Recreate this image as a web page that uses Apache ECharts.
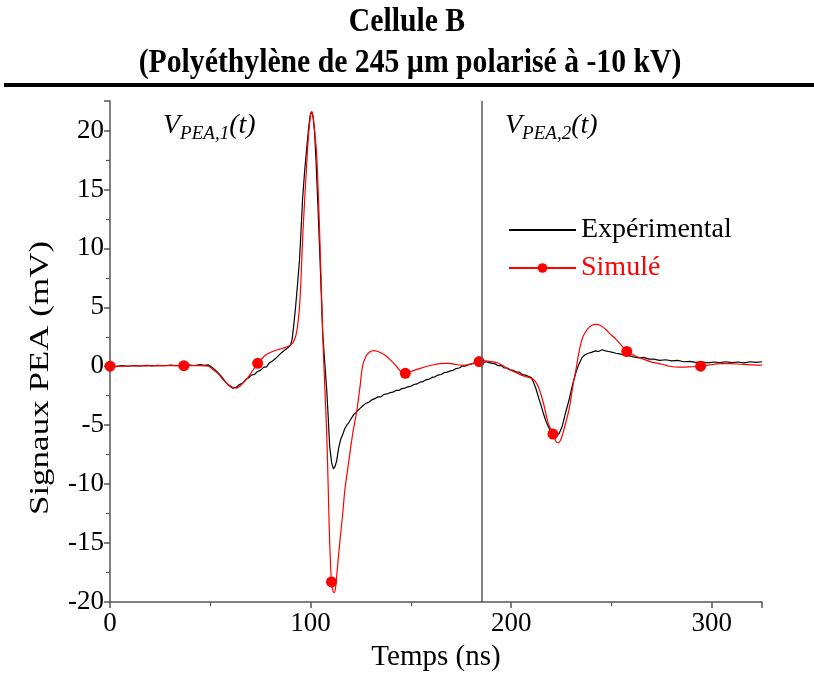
<!DOCTYPE html>
<html>
<head>
<meta charset="utf-8">
<script src="https://cdn.jsdelivr.net/npm/echarts@6/dist/echarts.min.js"></script>
<style>
  html, body { margin: 0; padding: 0; background: #fff; }
  #chart { width: 814px; height: 677px; }
</style>
</head>
<body>
<div id="chart"></div>
<script>
// signal expérimental (temps en ns, signal en mV)
var expT = [0, 3, 6, 9, 12, 15, 18, 21, 24, 27, 30, 33, 36, 39, 42, 45, 47, 49, 51, 53, 55, 57, 59, 61, 63, 64.5, 66, 67.5, 69, 70.5, 72, 73.5, 75, 76.5, 78, 79.5, 81, 82.5, 84, 85.5, 87, 88.5, 90, 90.8, 91.6, 92.5, 93.5, 94.5, 95.3, 96, 97, 98, 99, 99.8, 100.5, 101.2, 102, 102.8, 103.6, 104.5, 105.3, 106, 107, 108, 108.8, 109.5, 110.5, 111.4, 112.2, 113, 114, 115, 116, 117, 118, 119, 120, 121.5, 123, 124.5, 126, 127.5, 129, 130.5, 132, 133.5, 135, 136.5, 138, 139.5, 141, 142.5, 144, 145.5, 147, 148.5, 150, 151.5, 153, 154.5, 156, 157.5, 159, 160.5, 162, 163.5, 165, 166.5, 168, 169.5, 171, 172.5, 174, 175.5, 177, 178.5, 180, 181.5, 183, 184.5, 186, 187.5, 189, 190.5, 192, 193.5, 195, 196.5, 198, 199.5, 201, 202.5, 204, 205.5, 207, 208.5, 210, 211.2, 212.4, 213.7, 215, 216.2, 217.4, 218.7, 219.9, 221.2, 222.4, 223.9, 225.4, 227, 228.9, 230.5, 232.3, 233.8, 235.3, 237, 238.5, 240.3, 242, 243.5, 245.3, 247, 248.5, 250, 252.2, 254, 256, 258.7, 261, 263.5, 266, 268.7, 271, 274, 277, 280, 283, 286, 289, 292, 295, 298, 301, 304, 307, 310, 313, 316, 319, 322, 325];
var expV = [0.02, -0.03, 0.05, 0.0, 0.06, 0.02, 0.08, 0.03, 0.07, 0.04, 0.1, 0.05, 0.09, 0.12, 0.06, 0.14, 0.08, 0.12, -0.1, -0.4, -0.75, -1.2, -1.6, -1.85, -1.78, -1.55, -1.45, -1.15, -1.0, -0.75, -0.7, -0.45, -0.35, -0.1, -0.05, 0.3, 0.45, 0.65, 0.9, 1.15, 1.35, 1.55, 1.8, 2.3, 3.5, 5.0, 7.0, 9.1, 11.8, 14.2, 16.5, 18.4, 20.2, 21.3, 21.6, 21.2, 19.8, 17.0, 13.8, 9.9, 6.2, 2.9, 0.4, -1.9, -4.4, -6.8, -8.2, -8.7, -8.5, -8.0, -6.9, -6.2, -5.8, -5.3, -5.0, -4.8, -4.5, -4.1, -3.85, -3.6, -3.35, -3.15, -3.05, -2.85, -2.75, -2.6, -2.6, -2.4, -2.35, -2.25, -2.2, -2.05, -2.05, -1.9, -1.85, -1.75, -1.7, -1.55, -1.5, -1.35, -1.3, -1.15, -1.1, -0.95, -0.9, -0.75, -0.7, -0.55, -0.5, -0.4, -0.35, -0.2, -0.15, 0.0, 0.0, 0.12, 0.18, 0.28, 0.25, 0.35, 0.3, 0.38, 0.3, 0.25, 0.2, 0.05, 0.05, -0.15, -0.15, -0.3, -0.35, -0.5, -0.5, -0.7, -0.75, -0.85, -0.95, -1.4, -1.95, -2.7, -3.4, -4.1, -4.7, -5.2, -5.6, -5.9, -6.0, -5.7, -5.1, -4.0, -2.8, -1.6, -0.5, 0.2, 0.75, 1.0, 1.1, 1.2, 1.3, 1.25, 1.4, 1.3, 1.25, 1.2, 1.1, 1.05, 0.95, 0.9, 0.8, 0.7, 0.75, 0.6, 0.6, 0.5, 0.55, 0.45, 0.5, 0.38, 0.42, 0.33, 0.38, 0.28, 0.36, 0.3, 0.38, 0.3, 0.36, 0.28, 0.38, 0.32, 0.38];

// signal simulé
var simT = [0, 10, 20, 30, 36.8, 45, 49, 51.5, 54, 56.5, 59, 61.5, 63, 65, 67, 69, 71, 73.6, 76, 78, 81, 84.6, 87.5, 89.6, 91.2, 92.5, 93.5, 94.5, 95.3, 96, 97, 98, 99, 100, 100.5, 101.2, 102, 103, 104, 104.5, 105.3, 106, 107, 108, 108.8, 109.5, 110.4, 111.2, 111.8, 112.5, 113.4, 114.5, 115.9, 117, 118, 119.4, 121, 122.9, 124.5, 125.9, 127.5, 129.4, 131.5, 133.5, 135.5, 137.8, 140, 142.8, 145, 147.2, 150, 154.2, 158, 162, 165.7, 169, 172, 176, 180, 184, 187, 190, 193, 196, 198.5, 202, 205, 208, 211, 213.4, 216, 218.4, 220.8, 222.4, 223.4, 224.5, 225.4, 227, 228.9, 230.5, 232.3, 233.8, 235.3, 237, 238.8, 240.5, 242.3, 244.5, 247.3, 249.5, 252.2, 255, 257.6, 261, 265.2, 270, 275.1, 279, 283.6, 289, 294.4, 299, 304.5, 309, 314.4, 320, 325];
var simV = [0, 0.02, 0.04, 0.05, 0.05, 0.05, 0.0, -0.3, -0.65, -1.15, -1.55, -1.82, -1.85, -1.65, -1.3, -0.9, -0.4, 0.25, 0.7, 1.0, 1.25, 1.45, 1.6, 1.75, 2.0, 2.5, 3.4, 5.1, 7.8, 10.8, 14.0, 17.0, 19.7, 21.3, 21.6, 21.2, 20.0, 18.0, 13.8, 11.3, 7.0, 2.9, -1.5, -5.6, -10.5, -15.0, -18.3, -19.1, -19.2, -18.7, -17.0, -15.0, -12.7, -10.6, -9.3, -7.6, -5.7, -3.9, -1.9, 0.0, 0.8, 1.2, 1.32, 1.25, 1.1, 0.85, 0.5, 0.0, -0.45, -0.6, -0.45, -0.2, 0.0, 0.15, 0.25, 0.25, 0.15, 0.08, 0.2, 0.4, 0.45, 0.4, 0.3, 0.05, -0.25, -0.5, -0.75, -0.9, -1.1, -1.7, -3.1, -4.8, -5.75, -6.4, -6.5, -6.3, -5.9, -4.9, -3.6, -1.9, -0.25, 1.2, 2.3, 2.9, 3.3, 3.5, 3.55, 3.45, 3.1, 2.7, 2.3, 1.75, 1.25, 0.95, 0.65, 0.35, 0.17, 0.0, -0.08, -0.05, 0.0, 0.12, 0.22, 0.22, 0.17, 0.12, 0.1];
// points marqués par un symbole
var simMarkT = [0, 36.8, 73.6, 110.4, 147.2, 184, 220.8, 257.6, 294.4];

var tSep = 185.5;

var serif = '"Liberation Serif", "Times New Roman", serif';
var chart = echarts.init(document.getElementById('chart'));

var expData = [];
for (var i = 0; i < expT.length; i++) {
    expData.push([expT[i], expV[i]]);
}
var simData = [];
for (var i = 0; i < simT.length; i++) {
    simData.push({
        value: [simT[i], simV[i]],
        symbol: simMarkT.indexOf(simT[i]) >= 0 ? 'circle' : 'none'
    });
}

function vLabel(idx) {
    return {
        text: '{v|V}{s|PEA,' + idx + '}{v|(t)}',
        rich: {
            v: { fontFamily: serif, fontStyle: 'italic', fontSize: 28, lineHeight: 34, verticalAlign: 'middle', fill: '#000' },
            s: { fontFamily: serif, fontStyle: 'italic', fontSize: 19, lineHeight: 34, verticalAlign: 'bottom', padding: [10, 0, 0, 0], fill: '#000' }
        }
    };
}

var option = {
    backgroundColor: '#fff',
    animation: false,
    grid: { left: 110, right: 52, top: 101, bottom: 73 },
    legend: {
        orient: 'vertical',
        left: 508, top: 216,
        padding: 0,
        itemWidth: 67, itemHeight: 12, itemGap: 10,
        textStyle: { fontFamily: serif, fontSize: 28, color: '#000' },
        data: [
            { name: 'Expérimental', textStyle: { color: '#000' }, itemStyle: { opacity: 0 } },
            { name: 'Simulé', textStyle: { color: '#ff0000' } }
        ]
    },
    xAxis: {
        type: 'value',
        min: 0, max: 325, interval: 100,
        name: 'Temps (ns)',
        nameLocation: 'middle', nameGap: 41,
        nameTextStyle: { fontFamily: serif, fontSize: 29, color: '#000' },
        axisLine: { onZero: false, lineStyle: { color: '#555', width: 1.5 } },
        axisTick: { inside: false, length: 6, lineStyle: { color: '#555', width: 1.5 } },
        minorTick: { show: true, splitNumber: 2, length: 4, lineStyle: { color: '#555', width: 1.2 } },
        axisLabel: { fontFamily: serif, fontSize: 27, color: '#000', margin: 8, showMaxLabel: false },
        splitLine: { show: false }
    },
    yAxis: {
        type: 'value',
        min: -20, max: 22.5, interval: 5,
        axisLine: { onZero: false, lineStyle: { color: '#555', width: 1.5 } },
        axisTick: { inside: false, length: 6, lineStyle: { color: '#555', width: 1.5 } },
        minorTick: { show: true, splitNumber: 2, length: 4, lineStyle: { color: '#555', width: 1.2 } },
        axisLabel: { fontFamily: serif, fontSize: 27, color: '#000', margin: 6, showMaxLabel: false },
        splitLine: { show: false }
    },
    graphic: [
        // titre (police étroite comme l'original)
        { type: 'text', x: 407, y: 22, scaleX: 0.9,
          style: { text: 'Cellule B', fontFamily: serif, fontWeight: 'bold', fontSize: 33, fill: '#000', align: 'center', verticalAlign: 'middle' } },
        { type: 'text', x: 410, y: 63, scaleX: 0.9,
          style: { text: '(Polyéthylène de 245 µm polarisé à -10 kV)', fontFamily: serif, fontWeight: 'bold', fontSize: 33, fill: '#000', align: 'center', verticalAlign: 'middle' } },
        { type: 'rect', shape: { x: 4, y: 83, width: 810, height: 4 }, style: { fill: '#000' } },
        // nom de l'axe y
        { type: 'text', x: 41, y: 378, rotation: Math.PI / 2, scaleY: 0.8,
          style: { text: 'Signaux PEA (mV)', fontFamily: serif, fontSize: 35, fill: '#000', align: 'center', verticalAlign: 'middle' } },
        { type: 'text', left: 163, top: 112, style: vLabel(1) },
        { type: 'text', left: 505, top: 112, style: vLabel(2) }
    ],
    series: [{
        name: 'Expérimental',
        type: 'line',
        data: expData,
        symbol: 'none',
        lineStyle: { color: '#000', width: 1.2 },
        itemStyle: { color: '#000' },
        markLine: {
            silent: true,
            symbol: 'none',
            label: { show: false },
            lineStyle: { color: '#555', width: 1.5, type: 'solid' },
            data: [{ xAxis: tSep }]
        },
        z: 2
    }, {
        name: 'Simulé',
        type: 'line',
        data: simData,
        smooth: 0.3,
        symbol: 'circle',
        symbolSize: 11,
        showSymbol: true,
        showAllSymbol: true,
        lineStyle: { color: '#ff0000', width: 1.2 },
        itemStyle: { color: '#ff0000' },
        z: 3
    }]
};
chart.setOption(option);
</script>
</body>
</html>
